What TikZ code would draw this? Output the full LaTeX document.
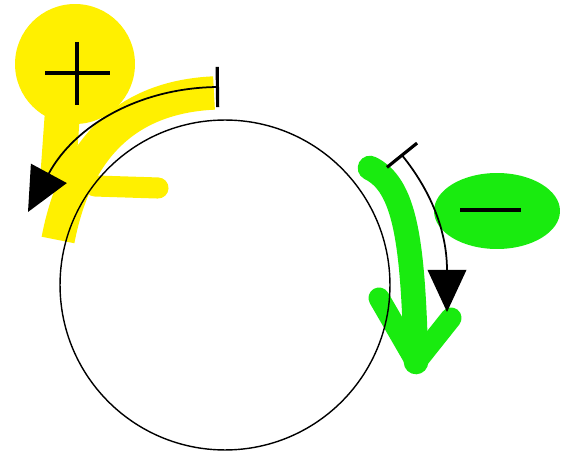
\documentclass[tikz,border=0pt]{standalone}
\usepackage{tikz}
\usetikzlibrary{arrows.meta}
\definecolor{plusyellow}{RGB}{255, 240, 0}
\definecolor{minusgreen}{RGB}{25, 235, 15}

\begin{document}
\begin{tikzpicture}[x=0.02cm, y=-0.02cm,
    band/.style={line width=#1, line cap=round, line join=round},
    rotarrow/.style={line width=1pt, {Bar[width=23pt, line width=1.8pt]}-{Triangle[length=25pt, width=23pt]}}]

    \useasboundingbox (0,0) rectangle (561,452);

    % Yellow (plus) highlight
    \fill[plusyellow] (75,64) circle (1.2cm);
    \draw[plusyellow, band=20pt] (63,105) -- (58,175);
    \draw[plusyellow, band=19pt, line cap=butt] (214,93)
      .. controls (150,96) and (80,125) .. (58,240);
    \draw[plusyellow, band=12pt] (95,186) -- (158,188);
    \draw[line width=1.8pt] (45,73) -- (110,73) (77,42) -- (77,105);

    % Green (minus) highlight
    \fill[minusgreen] (497,211) ellipse (1.26cm and 0.76cm);
    \draw[line width=2.4pt] (460,210) -- (521,210);
    \draw[minusgreen, band=14pt] (370,168)
      .. controls (405,185) and (413,240) .. (416,362);
    \draw[minusgreen, band=12pt] (379,298) -- (416,362) -- (451,318);

    % Wheel
    \draw[line width=0.8pt] (225,285) circle (3.3cm);

    % Rotation arrows
    \coordinate (plusfrom) at (219,87);
    \coordinate (plusto) at (28,212);
    \draw[rotarrow] (plusfrom) .. controls (140,88) and (75,125) .. (plusto);

    \coordinate (minusfrom) at (401,154);
    \coordinate (minusto) at (447,312);
    \draw[rotarrow, {Bar[width=22pt, line width=1.8pt]}-{Triangle[length=24pt, width=22pt]}]
      (minusfrom) .. controls (430,190) and (447,230) .. (minusto);

\end{tikzpicture}
\end{document}
